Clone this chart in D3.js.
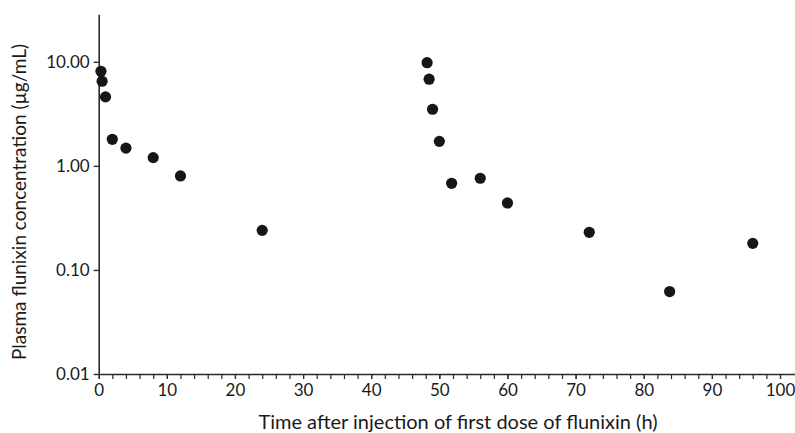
<!DOCTYPE html>
<html>
<head>
<meta charset="utf-8">
<script src="https://cdn.jsdelivr.net/npm/d3@7"></script>
<style>
  body { margin: 0; background: #fff; }
  svg text { font-family: Lato, "Open Sans", sans-serif; fill: #1a1a1a; }
</style>
</head>
<body>
<svg id="chart" width="795" height="433"></svg>
<script>
// sampling times (h) and plasma concentration (µg/mL)
const times = [0.33, 0.5, 1, 2, 4, 8, 12, 24, 48.2, 48.5, 49, 50, 51.8, 56, 60, 72, 83.8, 96];
const conc  = [8.1, 6.5, 4.6, 1.8, 1.48, 1.2, 0.8, 0.24, 9.8, 6.8, 3.5, 1.72, 0.68, 0.76, 0.44, 0.23, 0.062, 0.18];
const yTicks = [0.01, 0.1, 1, 10];
const xTicks = d3.range(0, 101, 10);
const xMinor = d3.range(0, 101, 2);

const svg = d3.select("#chart");
const padL = 98.7, padB = 374, padT = 14.3;

const x = d3.scaleLinear().domain([0, 102.2]).range([padL, 795]);
const y = d3.scaleLog().domain([0.01, 28.6]).range([padB, padT]);

// y axis
const yAx = svg.append("g")
  .attr("transform", `translate(${padL},0)`)
  .call(d3.axisLeft(y).tickValues(yTicks).tickFormat(d3.format(".2f")).tickSize(5).tickSizeOuter(0).tickPadding(4));
yAx.select(".domain").attr("stroke", "#2a2a2a").attr("stroke-width", 1.6);
yAx.selectAll(".tick line").attr("stroke", "#2a2a2a").attr("stroke-width", 1.4);
yAx.selectAll(".tick text").style("font-size", "17px").attr("fill", "#1a1a1a");

// x axis: minor ticks then labelled ticks
const xMin = svg.append("g")
  .attr("transform", `translate(0,${padB})`)
  .call(d3.axisBottom(x).tickValues(xMinor).tickFormat("").tickSize(5).tickSizeOuter(0));
xMin.select(".domain").attr("stroke", "#2a2a2a").attr("stroke-width", 1.6);
xMin.selectAll(".tick line").attr("stroke", "#2a2a2a").attr("stroke-width", 1.2);

const xAx = svg.append("g")
  .attr("transform", `translate(0,${padB})`)
  .call(d3.axisBottom(x).tickValues(xTicks).tickFormat(d3.format("d")).tickSize(5).tickPadding(5));
xAx.select(".domain").remove();
xAx.selectAll(".tick line").attr("stroke", "#2a2a2a").attr("stroke-width", 1.2);
xAx.selectAll(".tick text").style("font-size", "17px").attr("fill", "#1a1a1a");

// axis titles
svg.append("text")
  .attr("x", 458)
  .attr("y", 429)
  .attr("text-anchor", "middle")
  .style("font-size", "20px")
  .text("Time after injection of first dose of flunixin (h)");

svg.append("text")
  .attr("transform", "translate(26,202) rotate(-90)")
  .attr("text-anchor", "middle")
  .style("font-size", "19px")
  .text("Plasma flunixin concentration (µg/mL)");

// points
svg.selectAll("circle.pt")
  .data(times.map((t, i) => ({ t, c: conc[i] })))
  .enter()
  .append("circle")
  .attr("class", "pt")
  .attr("cx", d => x(d.t))
  .attr("cy", d => y(d.c))
  .attr("r", 5.6)
  .attr("fill", "#161616");
</script>
</body>
</html>
